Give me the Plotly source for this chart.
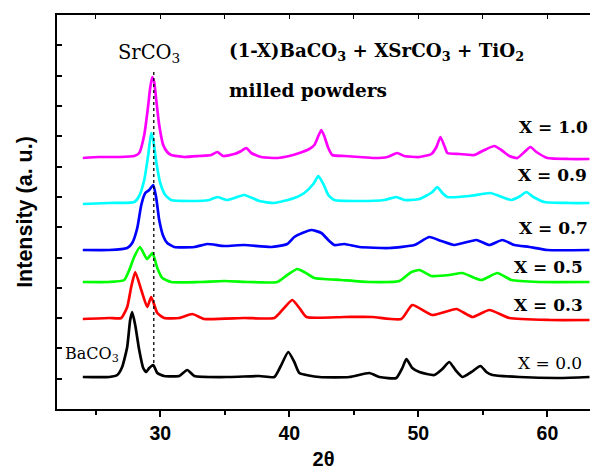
import plotly.graph_objects as go

# XRD patterns of (1-X)BaCO3 + XSrCO3 + TiO2 milled powders (stacked, offset intensities)
two_theta_x10 = [24.0, 25.27, 26.82, 27.98, 28.37, 28.76, 29.07, 29.22, 29.38, 29.53, 29.69, 29.92,
                 30.23, 30.54, 30.85, 31.86, 33.02, 33.95, 34.42, 34.88, 35.74, 36.28, 36.67, 37.05,
                 37.83, 39.07, 40.0, 40.78, 41.55, 41.94, 42.25, 42.48, 42.71, 43.02, 43.33, 44.26,
                 45.43, 46.59, 47.6, 48.37, 48.91, 50.08, 51.01, 51.4, 51.71, 52.02, 52.25, 53.18,
                 54.34, 55.12, 55.89, 56.43, 57.05, 57.67, 58.22, 58.68, 59.15, 60.0, 61.71, 63.26]
int_x10 = [251, 252, 252, 253, 256, 274, 304, 321, 332, 327, 309, 284,
           264, 257, 254, 252, 253, 254, 257, 253, 255, 258, 261, 256,
           252, 251, 253, 256, 260, 264, 273, 279, 273, 261, 254, 253,
           252, 251, 252, 256, 253, 252, 255, 262, 272, 263, 256, 255,
           254, 259, 263, 259, 253, 251, 257, 262, 257, 251, 250, 250]

two_theta_x09 = [24.0, 26.05, 27.98, 28.37, 28.76, 29.07, 29.3, 29.46, 29.69, 30.0, 30.39, 30.85,
                 32.25, 33.8, 34.42, 35.19, 36.51, 37.67, 38.84, 40.39, 41.16, 41.86, 42.25, 42.64,
                 43.02, 43.49, 45.43, 47.36, 48.29, 48.91, 50.08, 51.09, 51.47, 51.86, 52.25, 53.95,
                 55.58, 56.28, 57.21, 57.91, 58.37, 58.91, 59.77, 61.71, 63.26]
int_x09 = [205, 206, 207, 213, 229, 254, 276, 269, 247, 226, 214, 209,
           208, 209, 212, 209, 214, 208, 206, 211, 216, 225, 233, 225,
           214, 209, 208, 209, 212, 209, 210, 217, 222, 216, 212, 213,
           216, 213, 209, 213, 217, 212, 207, 206, 206]

two_theta_x07 = [24.0, 26.05, 27.44, 27.83, 28.22, 28.53, 28.84, 29.15, 29.46, 29.69, 29.92, 30.23,
                 30.54, 31.09, 32.64, 33.64, 34.96, 36.51, 38.6, 39.84, 40.39, 41.01, 41.71, 42.48,
                 43.1, 43.49, 44.26, 45.43, 47.75, 49.69, 50.85, 51.78, 52.79, 54.5, 55.5, 56.51,
                 57.44, 58.6, 60.0, 63.26]
int_x07 = [159, 159, 161, 166, 181, 204, 216, 219, 224, 211, 189, 173,
           166, 162, 162, 165, 163, 164, 162, 165, 172, 176, 179, 176,
           168, 164, 165, 162, 161, 164, 172, 168, 164, 169, 164, 169,
           164, 162, 159, 159]

two_theta_x05 = [24.0, 26.05, 27.21, 27.6, 27.98, 28.43, 28.97, 29.4, 29.77, 30.16, 30.85, 33.02,
                 34.96, 36.9, 39.07, 39.84, 40.62, 41.16, 41.94, 44.03, 46.2, 48.53, 49.46, 50.08,
                 51.01, 52.4, 53.41, 54.88, 56.12, 57.21, 59.38, 63.26]
int_x05 = [127, 127, 129, 139, 152, 162, 150, 156, 141, 131, 127, 127,
           128, 127, 127, 134, 140, 137, 131, 129, 127, 128, 137, 139,
           133, 134, 136, 129, 136, 129, 127, 127]

two_theta_x03 = [24.0, 26.05, 26.98, 27.44, 27.75, 28.06, 28.53, 28.99, 29.3, 29.77, 30.31, 31.47,
                 32.48, 33.41, 36.51, 38.84, 39.46, 40.23, 40.78, 41.32, 44.26, 46.43, 48.68, 49.53,
                 51.09, 52.95, 54.19, 55.5, 57.05, 60.16, 63.26]
int_x03 = [90, 91, 91, 102, 122, 137, 119, 102, 112, 96, 91, 91,
           95, 90, 91, 91, 99, 109, 101, 92, 92, 92, 90, 104,
           94, 100, 92, 99, 91, 89, 89]

two_theta_x00 = [24.0, 26.05, 26.67, 27.05, 27.44, 27.67, 27.83, 28.06, 28.37, 28.68, 28.91, 29.15,
                 29.46, 29.77, 30.31, 31.47, 32.09, 32.64, 35.35, 37.67, 38.84, 39.3, 39.92, 40.39,
                 40.78, 42.33, 44.65, 46.2, 46.98, 48.29, 48.76, 49.07, 49.53, 50.08, 51.24, 51.86,
                 52.4, 52.87, 53.41, 54.11, 54.81, 55.27, 55.74, 57.83, 60.93, 63.26]
int_x00 = [32, 32, 34, 42, 62, 89, 97, 84, 59, 41, 37, 41,
           44, 36, 33, 33, 39, 33, 32, 33, 32, 42, 57, 47,
           36, 32, 32, 36, 32, 31, 41, 50, 41, 37, 34, 40,
           47, 39, 32, 37, 43, 37, 34, 32, 31, 32]

series_names = ["X = 1.0", "X = 0.9", "X = 0.7", "X = 0.5", "X = 0.3", "X = 0.0"]
series_x = [two_theta_x10, two_theta_x09, two_theta_x07, two_theta_x05, two_theta_x03, two_theta_x00]
series_y = [int_x10, int_x09, int_x07, int_x05, int_x03, int_x00]
series_colors = ["#FF00FF", "#00FFFF", "#0000FF", "#00FF00", "#FF0000", "#000000"]
label_x = [63.3, 63.25, 63.3, 62.95, 62.95, 62.8]
label_y = [282, 234, 181, 142, 104, 46]
label_bold = [True, True, True, True, True, False]

# SrCO3 reference position
sr_marker_x = [29.5, 29.5]
sr_marker_y = [46, 339]

SERIF = "DejaVu Serif"
SANS = "Liberation Sans, Arial"

fig = go.Figure()

for xs, ys, name, col in zip(series_x, series_y, series_names, series_colors):
    fig.add_trace(go.Scatter(x=xs, y=ys, mode="lines", name=name,
                             line=dict(color=col, width=2.7, shape="spline", smoothing=0.5),
                             showlegend=False))

fig.add_trace(go.Scatter(x=sr_marker_x, y=sr_marker_y, mode="lines",
                         line=dict(color="black", width=1.3, dash="dot"),
                         showlegend=False))

# top axis with inward ticks
fig.add_trace(go.Scatter(x=[24], y=[0], xaxis="x2", mode="markers",
                         marker=dict(opacity=0), showlegend=False, hoverinfo="skip"))

annotations = []
for name, xv, yv, bold in zip(series_names, label_x, label_y, label_bold):
    txt = f"<b>{name}</b>" if bold else name
    annotations.append(dict(x=xv, y=yv, xref="x", yref="y", text=txt, showarrow=False,
                            xanchor="right", yanchor="middle",
                            font=dict(family=SERIF, size=17, color="black")))

annotations += [
    dict(x=26.55, y=356, xref="x", yref="y", text="SrCO<sub>3</sub>", showarrow=False,
         xanchor="left", yanchor="middle", font=dict(family=SERIF, size=19.5, color="black")),
    dict(x=22.45, y=55, xref="x", yref="y", text="BaCO<sub>3</sub>", showarrow=False,
         xanchor="left", yanchor="middle", font=dict(family=SERIF, size=16, color="black")),
    dict(x=35.2, y=357, xref="x", yref="y",
         text="<b>(1-X)BaCO<sub>3</sub> + XSrCO<sub>3</sub> + TiO<sub>2</sub></b>", showarrow=False,
         xanchor="left", yanchor="middle", font=dict(family=SERIF, size=18.3, color="black")),
    dict(x=35.2, y=319, xref="x", yref="y", text="<b>milled powders</b>", showarrow=False,
         xanchor="left", yanchor="middle", font=dict(family=SERIF, size=18.5, color="black")),
]

fig.update_layout(
    width=590, height=470,
    margin=dict(l=57, r=0, t=15, b=61),
    paper_bgcolor="white", plot_bgcolor="white",
    annotations=annotations,
    xaxis=dict(range=[22, 63.3], showgrid=False, zeroline=False,
               showline=True, linecolor="black", linewidth=2,
               ticks="outside", ticklen=6, tickwidth=1.5, tickcolor="black",
               tickmode="linear", tick0=30, dtick=10,
               tickprefix="<b>", ticksuffix="</b>",
               minor=dict(ticks="outside", ticklen=4, tickwidth=1.5, tickcolor="black",
                          tickmode="linear", tick0=25, dtick=10),
               tickfont=dict(family=SANS, size=19.5, color="black"),
               title=dict(text="<b>2θ</b>", font=dict(family=SANS, size=20, color="black"),
                          standoff=10)),
    xaxis2=dict(range=[22, 63.3], overlaying="x", side="top", showgrid=False,
                zeroline=False, showline=True, linecolor="black", linewidth=2,
                ticks="inside", ticklen=4, tickwidth=1, tickcolor="black",
                tickmode="linear", tick0=25, dtick=5, showticklabels=False),
    yaxis=dict(range=[0, 394], showgrid=False, zeroline=False,
               showline=True, linecolor="black", linewidth=2,
               ticks="inside", ticklen=5, tickwidth=1.5, tickcolor="black",
               tickmode="linear", tick0=0, dtick=30.3, showticklabels=False,
               title=dict(text="<b>Intensity (a. u.)</b>",
                          font=dict(family=SANS, size=21.5, color="black"), standoff=16)),
)

fig.write_html("out.html")
